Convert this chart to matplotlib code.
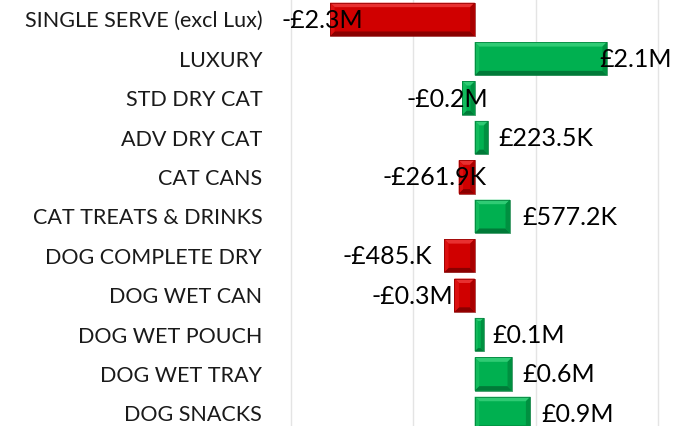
import matplotlib.pyplot as plt
import matplotlib.transforms as mtransforms
from matplotlib.patches import Polygon
import numpy as np

# Dati (milioni di £)
categories = ['SINGLE SERVE (excl Lux)', 'LUXURY', 'STD DRY CAT', 'ADV DRY CAT', 'CAT CANS',
              'CAT TREATS & DRINKS', 'DOG COMPLETE DRY', 'DOG WET CAN', 'DOG WET POUCH',
              'DOG WET TRAY', 'DOG SNACKS']
values = [-2.36, 2.16, -0.20, 0.2235, -0.2619, 0.5772, -0.50, -0.33, 0.15, 0.61, 0.91]
value_labels = ['-£2.3M', '£2.1M', '-£0.2M', '£223.5K', '-£261.9K', '£577.2K', '-£485.K',
                '-£0.3M', '£0.1M', '£0.6M', '£0.9M']

# Colori (rosso / verde stile Excel) e offset etichette in pixel
RED = ('#d00000', '#e83030', '#8a0000', '#dc1010', '#a80000')
GREEN = ('#00b050', '#2fcb74', '#007a38', '#12bb5c', '#009040')
bar_styles = [RED, GREEN, GREEN, GREEN, RED, GREEN, RED, RED, GREEN, GREEN, GREEN]
label_offsets = [33, -8, 26, 10, 28, 12, -12, -1, 9, 10, 11]

plt.rcParams['font.family'] = ['Lato', 'DejaVu Sans']

fig = plt.figure(figsize=(6.87, 4.26), dpi=100)
ax = fig.add_axes([290 / 687, 0, 397 / 687, 1])

y = np.arange(len(categories))
bars = ax.barh(y, values, height=0.845, color=[s[0] for s in bar_styles], zorder=2)

ax.set_xlim(-3.015, -3.015 + 397 / 61.25)
ax.set_ylim(10.32, -0.49)
ax.set_xticks([-3, -1, 1, 3])
ax.xaxis.grid(True, color='#e4e4e4', linewidth=1)
ax.set_axisbelow(True)
ax.tick_params(axis='x', length=0, labelbottom=False)
ax.tick_params(axis='y', length=0, pad=20)
ax.set_yticks(y)
ax.set_yticklabels(categories, fontsize=15.5, color='#1a1a1a')
for s in ax.spines.values():
    s.set_visible(False)

# Effetto "bevel" sulle barre, disegnato in pixel
ident = mtransforms.IdentityTransform()
for rect, style in zip(bars, bar_styles):
    x0, y0 = rect.get_x(), rect.get_y()
    x1, y1 = x0 + rect.get_width(), y0 + rect.get_height()
    (px0, py0), (px1, py1) = ax.transData.transform([(x0, y0), (x1, y1)])
    L, R = min(px0, px1), max(px0, px1)
    B, T = min(py0, py1), max(py0, py1)
    b = min(4.5, (R - L) / 3, (T - B) / 3)
    polys = [
        ([(L, T), (R, T), (R - b, T - b), (L + b, T - b)], style[1]),  # alto
        ([(L, B), (R, B), (R - b, B + b), (L + b, B + b)], style[2]),  # basso
        ([(L, B), (L, T), (L + b, T - b), (L + b, B + b)], style[3]),  # sinistra
        ([(R, B), (R, T), (R - b, T - b), (R - b, B + b)], style[4]),  # destra
    ]
    for pts, c in polys:
        ax.add_patch(Polygon(pts, closed=True, facecolor=c, edgecolor='none',
                             transform=ident, zorder=3))
    ax.add_patch(Polygon([(L, B), (L, T), (R, T), (R, B)], closed=True, facecolor='none',
                         edgecolor=style[2], linewidth=0.5, transform=ident, zorder=3))

# Etichette dei valori
for yi, v, lab, off in zip(y, values, value_labels, label_offsets):
    ha = 'right' if v < 0 else 'left'
    ax.annotate(lab, (v, yi), xytext=(off, -1), textcoords='offset pixels',
                ha=ha, va='center', fontsize=18, color='black', zorder=4,
                annotation_clip=False)

plt.savefig('out.png', dpi=100)
